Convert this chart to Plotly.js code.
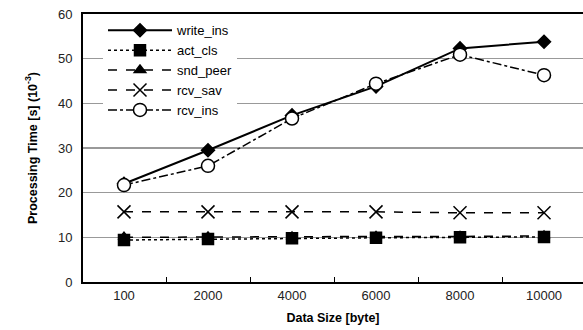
<!DOCTYPE html>
<html><head><meta charset="utf-8">
<script src="https://cdn.plot.ly/plotly-3.0.1.min.js"></script>
<style>html,body{margin:0;padding:0;background:#fff}#chart{width:583px;height:330px}</style>
</head><body><div id="chart"></div>
<script>
const categories = ["100","2000","4000","6000","8000","10000"];
const writeIns = [22.0, 29.5, 37.3, 43.8, 52.3, 53.8];
const actCls   = [9.4, 9.6, 9.8, 9.9, 10.0, 10.1];
const sndPeer  = [10.0, 10.1, 10.1, 10.2, 10.2, 10.3];
const rcvSav   = [15.7, 15.7, 15.7, 15.7, 15.5, 15.5];
const rcvIns   = [21.7, 26.0, 36.6, 44.4, 50.9, 46.3];
const yTicks = [0,10,20,30,40,50,60];

const font = "Liberation Sans, Arial, sans-serif";
function tr(name, y, dash, symbol, size, fill, lw){
  return {x: categories, y: y, name: name, type: "scatter", mode: "lines+markers",
    line: {color: "#000", width: lw, dash: dash},
    marker: {symbol: symbol, size: size, color: fill, line: {color: "#000", width: 1.5}},
    cliponaxis: false};
}
const data = [
  tr("write_ins", writeIns, "solid", "diamond", 10, "#000", 2),
  tr("act_cls", actCls, "dot", "square", 11, "#000", 1.5),
  tr("snd_peer", sndPeer, "dash", "triangle-up", 10, "#000", 1.5),
  tr("rcv_sav", rcvSav, "dash", "x-thin-open", 13, "#000", 1.5),
  tr("rcv_ins", rcvIns, "dashdot", "circle", 13, "#fff", 1.5)
];
const layout = {
  width: 583, height: 330,
  margin: {l: 83, r: 0, t: 14, b: 48},
  paper_bgcolor: "#fff", plot_bgcolor: "#fff",
  font: {family: font, color: "#000", size: 13},
  showlegend: true,
  legend: {x: 0.04, y: 0.995, xanchor: "left", yanchor: "top", bgcolor: "#fff",
    font: {family: font, size: 13, color: "#000"}, tracegroupgap: 0, itemwidth: 64},
  xaxis: {type: "category", range: [-0.488, 5.464], showline: true, linecolor: "#000", linewidth: 2,
    mirror: true, ticks: "inside", tickson: "boundaries", ticklen: 5, tickcolor: "#000",
    showgrid: false, zeroline: false, tickfont: {size: 13, color: "#222"},
    title: {text: "<b>Data Size [byte]</b>", font: {size: 12.5}, standoff: 12}},
  yaxis: {range: [0, 60], tickvals: yTicks, showline: true, linecolor: "#000", linewidth: 2,
    ticks: "", showgrid: true, gridcolor: "#999", gridwidth: 1.5, zeroline: false,
    tickfont: {size: 13, color: "#222"}, ticklabelstandoff: 6,
    title: {text: "<b>Processing Time [s] (10<sup>-3</sup>)</b>", font: {size: 12.5}, standoff: 18}}
};
Plotly.newPlot("chart", data, layout, {displayModeBar: false, staticPlot: true});
</script></body></html>
